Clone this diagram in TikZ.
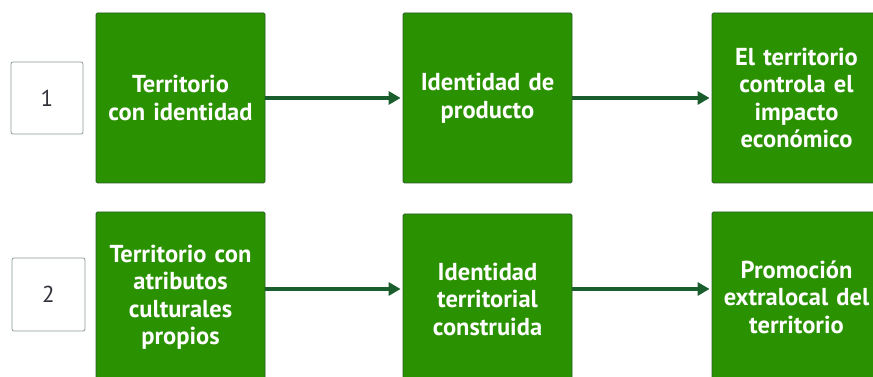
\documentclass[tikz,border=0pt]{standalone}
\usepackage{fontspec}
\setmainfont{PT Sans}
\usetikzlibrary{arrows.meta}
\definecolor{boxgreen}{RGB}{42,145,0}
\definecolor{boxedge}{RGB}{40,95,40}
\definecolor{arrowgreen}{RGB}{26,94,46}
\definecolor{numedge}{RGB}{140,155,150}
\definecolor{numtext}{RGB}{50,50,60}
\tikzset{
  stage/.style={draw=boxedge, line width=0.8pt, fill=boxgreen, rounded corners=1.5pt,
    minimum width=169pt, minimum height=170pt, text width=165pt, align=center,
    text=white, font=\bfseries\fontsize{24.5}{27.5}\selectfont, inner sep=0pt},
  numbox/.style={draw=numedge, line width=0.8pt, fill=white, rounded corners=2pt,
    minimum width=72pt, minimum height=72pt, inner sep=0pt,
    text=numtext, font=\fontsize{23}{26}\selectfont},
  link/.style={draw=arrowgreen, line width=3.5pt, -{Triangle[length=12pt,width=13pt]}, shorten >=2pt}
}
\begin{document}
\begin{tikzpicture}[x=1pt,y=1pt]
\useasboundingbox (0,0) rectangle (873,377);
\clip (0,0) rectangle (873,377);
\node[numbox] (n1) at (47,279) {1};
\node[numbox, minimum width=73pt, minimum height=73pt] (n2) at (48.5,82.5) {2};
\node[stage] (a1) at (180.5,279) {Territorio\\con identidad};
\node[stage] (b1) at (487.5,279) {Identidad de\\producto};
\node[stage] (c1) at (796.5,279) {El territorio\\controla el\\impacto\\económico\\[8pt]};
\node[stage] (a2) at (180.5,80) {Territorio con\\atributos\\culturales\\propios};
\node[stage] (b2) at (487.5,78) {Identidad\\territorial\\construida};
\node[stage] (c2) at (796.5,80) {Promoción\\extralocal del\\territorio\\[3pt]};
\draw[link] (a1) -- (b1);
\draw[link] (b1) -- (c1.west |- b1);
\draw[link] (a2.east |- 0,88) -- (b2.west |- 0,88);
\draw[link] (b2.east |- 0,88) -- (c2.west |- 0,88);
\end{tikzpicture}
\end{document}
